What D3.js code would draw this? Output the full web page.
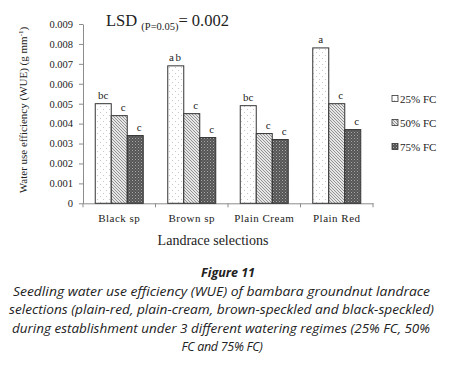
<!DOCTYPE html>
<html><head><meta charset="utf-8">
<script src="https://cdn.jsdelivr.net/npm/d3@7"></script>
<style>
html,body{margin:0;padding:0;background:#fff;}
svg{display:block;}
</style></head>
<body>
<script>
const categories = ["Black sp", "Brown sp", "Plain Cream", "Plain Red"];
const seriesNames = ["25% FC", "50% FC", "75% FC"];
const wue25 = [0.0050, 0.0069, 0.0049, 0.0078];
const wue50 = [0.0044, 0.0045, 0.0035, 0.0050];
const wue75 = [0.0034, 0.0033, 0.0032, 0.0037];
const letters25 = ["bc", "ab", "bc", "a"];
const letters50 = ["c", "c", "c", "c"];
const letters75 = ["c", "c", "c", "c"];
const yTicks = [0, 0.001, 0.002, 0.003, 0.004, 0.005, 0.006, 0.007, 0.008, 0.009];
const captionTitle = "Figure 11";
const captionLines = [
  "Seedling water use efficiency (WUE) of bambara groundnut landrace",
  "selections (plain-red, plain-cream, brown-speckled and black-speckled)",
  "during establishment under 3 different watering regimes (25% FC, 50%",
  "FC and 75% FC)"
];

const values = [wue25, wue50, wue75];
const letters = [letters25, letters50, letters75];

const W = 456, H = 370;
const svg = d3.select("body").append("svg").attr("width", W).attr("height", H);
const defs = svg.append("defs");

// patterns
const p1 = defs.append("pattern").attr("id","pat0").attr("patternUnits","userSpaceOnUse").attr("width",6).attr("height",6);
p1.append("rect").attr("width",6).attr("height",6).attr("fill","#fff");
p1.append("rect").attr("x",1).attr("y",1).attr("width",1).attr("height",1).attr("fill","#c8c8c8");
p1.append("rect").attr("x",4).attr("y",4).attr("width",1).attr("height",1).attr("fill","#c8c8c8");

const p2 = defs.append("pattern").attr("id","pat1").attr("patternUnits","userSpaceOnUse").attr("width",3).attr("height",3);
p2.append("rect").attr("width",3).attr("height",3).attr("fill","#e6e6e6");
p2.append("path").attr("d","M0,0 L3,3 M-1,2 L1,4 M2,-1 L4,1").attr("stroke","#8a8a8a").attr("stroke-width",0.9);

const p3 = defs.append("pattern").attr("id","pat2").attr("patternUnits","userSpaceOnUse").attr("width",3).attr("height",3);
p3.append("rect").attr("width",3).attr("height",3).attr("fill","#555");
p3.append("rect").attr("x",0).attr("y",0).attr("width",1).attr("height",1).attr("fill","#a8a8a8");
p3.append("rect").attr("x",1.5).attr("y",1.5).attr("width",1).attr("height",1).attr("fill","#8a8a8a");

const serif = "'Liberation Serif','Times New Roman',serif";
const textCol = "#222";

const x0 = 83, x1 = 373, yBase = 203.3, yTop = 24;
const x = d3.scaleBand().domain(categories).range([x0, x1]).paddingInner(0).paddingOuter(0);
const y = d3.scaleLinear().domain([0, 0.009]).range([yBase, yTop]);
const barW = 16;
const xs = d3.scaleBand().domain(seriesNames).range([0, barW*3]);

// Y axis
const yAxis = d3.axisLeft(y).tickValues(yTicks).tickSize(4).tickSizeOuter(0)
  .tickFormat(d => d === 0 ? "0" : d3.format(".3f")(d));
const gy = svg.append("g").attr("transform", `translate(${x0},0)`).call(yAxis);
gy.select(".domain").attr("stroke","#8c8c8c");
gy.selectAll(".tick line").attr("stroke","#8c8c8c");
gy.selectAll(".tick text").attr("font-family", serif).attr("font-size", 10.5).attr("fill", textCol).attr("x",-10);

// X axis
const xAxis = d3.axisBottom(x).tickSize(0).tickSizeOuter(0);
const gx = svg.append("g").attr("transform", `translate(0,${yBase})`).call(xAxis);
gx.select(".domain").attr("stroke","#8c8c8c");
gx.selectAll(".tick text").attr("font-family", serif).attr("font-size", 11).attr("fill", textCol).attr("dy", "1.4em").attr("letter-spacing", 0.5);
// boundary ticks
const bounds = categories.map(c => x(c)).concat([x1]);
svg.append("g").selectAll("line").data(bounds).join("line")
  .attr("x1", d => d).attr("x2", d => d).attr("y1", yBase).attr("y2", yBase + 4)
  .attr("stroke","#8c8c8c");

// Bars
const offset = (x.bandwidth() - barW*3) / 2;
seriesNames.forEach((s, si) => {
  const g = svg.append("g");
  g.selectAll("rect").data(categories).join("rect")
    .attr("x", c => x(c) + offset + xs(s))
    .attr("y", (c, i) => y(values[si][i]))
    .attr("width", xs.bandwidth())
    .attr("height", (c, i) => yBase - y(values[si][i]))
    .attr("fill", `url(#pat${si})`)
    .attr("stroke", "#333").attr("stroke-width", 1);
  g.selectAll("text").data(categories).join("text")
    .attr("x", c => x(c) + offset + xs(s) + xs.bandwidth()/2 + (si > 0 ? 4 : 0))
    .attr("y", (c, i) => y(values[si][i]) - 5)
    .attr("text-anchor", "middle")
    .attr("font-family", serif).attr("font-size", 11).attr("fill", textCol)
    .attr("letter-spacing", (c, i) => letters[si][i] === "ab" ? 1.5 : 0)
    .text((c, i) => letters[si][i]);
});

// LSD label
const lsd = svg.append("text").attr("x", 106).attr("y", 26).attr("font-family", serif).attr("fill", textCol).attr("font-size", 16.5);
lsd.append("tspan").text("LSD ");
lsd.append("tspan").attr("font-size", 10.5).attr("dy", 4).text("(P=0.05)");
lsd.append("tspan").attr("dy", -4).text("= 0.002");

// Legend
const leg = svg.append("g");
seriesNames.forEach((s, i) => {
  const ly = 99 + i * 24;
  leg.append("rect").attr("x", 392).attr("y", ly - 3.5).attr("width", 6).attr("height", 6)
    .attr("fill", `url(#pat${i})`).attr("stroke", "#333").attr("stroke-width", 0.8);
  leg.append("text").attr("x", 400).attr("y", ly + 3.5).attr("font-family", serif).attr("font-size", 11)
    .attr("fill", textCol).text(s);
});

// Y label
const yl = svg.append("text").attr("transform", "translate(27,110) rotate(-90)")
  .attr("text-anchor", "middle").attr("font-family", serif).attr("font-size", 11).attr("fill", textCol);
yl.append("tspan").text("Water use efficiency (WUE) (g mm");
yl.append("tspan").attr("font-size", 7).attr("dy", -4).text("-1");
yl.append("tspan").attr("dy", 4).text(")");

// X label
svg.append("text").attr("x", 213).attr("y", 245).attr("text-anchor", "middle")
  .attr("font-family", serif).attr("font-size", 14).attr("fill", textCol).text("Landrace selections");

// Caption
const sans = "'Open Sans','Noto Sans',sans-serif";
svg.append("text").attr("x", 228).attr("y", 277).attr("text-anchor", "middle")
  .attr("font-family", sans).attr("font-weight", "bold").attr("font-style", "italic")
  .attr("font-size", 12.5).attr("fill", textCol).text(captionTitle);
const capW = [417, 425, 418, null];
const capX = [13, 9, 12, 222];
captionLines.forEach((t, i) => {
  const tx = svg.append("text").attr("x", capX[i]).attr("y", 296 + i * 18.3)
    .attr("font-family", sans).attr("font-style", "italic").attr("font-size", 12.5)
    .attr("fill", textCol).text(t);
  if (capW[i]) tx.attr("textLength", capW[i]).attr("lengthAdjust", "spacingAndGlyphs");
  else tx.attr("text-anchor", "middle").attr("letter-spacing", -0.3);
});
</script>
</body></html>
